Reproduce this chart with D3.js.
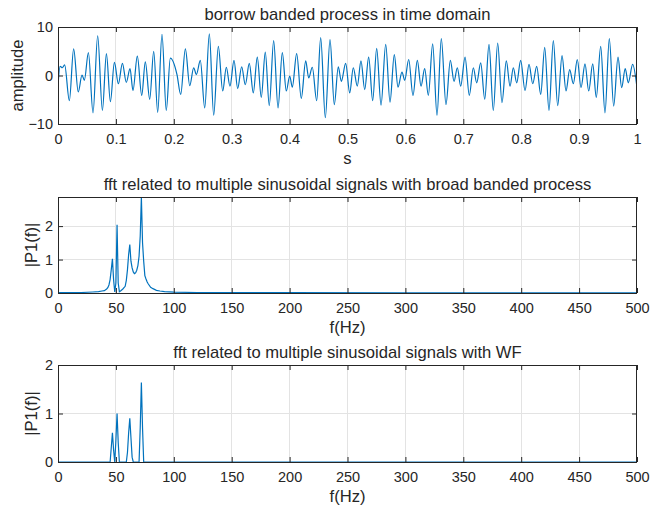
<!DOCTYPE html>
<html>
<head>
<meta charset="utf-8">
<script src="https://cdn.jsdelivr.net/npm/d3@7"></script>
<style>
  body { margin: 0; background: #fff; }
  text { font-family: "Liberation Sans", Arial, sans-serif; fill: #262626; }
</style>
</head>
<body>
<div id="chart"></div>
<script>
const timeS = [
  0, 0.0035, 0.0075, 0.0115, 0.0196, 0.027, 0.035, 0.0415, 0.0455, 0.0525,
  0.0605, 0.0685, 0.0767, 0.0836, 0.0905, 0.0974, 0.1043, 0.1112, 0.118, 0.1244,
  0.1295, 0.137, 0.1446, 0.1508, 0.1584, 0.1653, 0.1722, 0.1796, 0.187, 0.194,
  0.2055, 0.2119, 0.22, 0.2275, 0.2344, 0.239, 0.2458, 0.2534, 0.2614, 0.2689,
  0.2769, 0.2845, 0.2907, 0.297, 0.304, 0.3103, 0.3172, 0.3235, 0.3304, 0.3373,
  0.3442, 0.3511, 0.358, 0.3649, 0.3725, 0.38, 0.3874, 0.3943, 0.4002, 0.4047,
  0.4122, 0.4202, 0.4278, 0.433, 0.4392, 0.4468, 0.4537, 0.4617, 0.4698, 0.4772,
  0.4841, 0.4893, 0.4969, 0.5038, 0.51, 0.5169, 0.5233, 0.5297, 0.5366, 0.5435,
  0.5504, 0.5579, 0.566, 0.5734, 0.5808, 0.5872, 0.5941, 0.5988, 0.6057, 0.6131,
  0.6206, 0.627, 0.6333, 0.6396, 0.6471, 0.6546, 0.662, 0.6701, 0.6776, 0.684,
  0.6897, 0.6955, 0.703, 0.7104, 0.7173, 0.7231, 0.7301, 0.737, 0.7444, 0.7518,
  0.7594, 0.7668, 0.7743, 0.7807, 0.7864, 0.7922, 0.7991, 0.8066, 0.8135, 0.8199,
  0.8268, 0.8337, 0.8406, 0.848, 0.8555, 0.863, 0.8705, 0.8774, 0.8837, 0.89,
  0.8969, 0.9033, 0.9102, 0.9166, 0.9235, 0.9297, 0.9373, 0.9447, 0.9522, 0.9597,
  0.9672, 0.9735, 0.9797, 0.9849, 0.9925, 1.0
];
const amplitude = [
  -2.2, 1.9, 1.6, 2.2, -5.2, 5.5, -3.4, 0.1, -1.0, 4.7,
  -7.7, 8.2, -7.2, 4.5, -5.4, 2.7, -1.7, 2.5, -1.4, 1.4,
  -3.1, 4.0, -4.1, 2.8, -4.9, 5.0, -7.6, 8.5, -7.2, 3.6,
  0.2, -3.9, 5.5, -2.1, 1.6, 0.2, 3.1, -6.7, 8.6, -8.2,
  6.0, -3.2, 1.7, -2.2, 3.1, -2.7, 1.8, -1.9, 2.5, -3.6,
  3.8, -4.5, 4.8, -6.2, 7.2, -6.7, 4.7, -3.2, -0.1, -2.4,
  4.5, -4.7, 3.0, -0.5, 1.7, -5.2, 7.8, -8.7, 7.4, -6.0,
  1.8, -1.2, 2.5, -3.6, 1.6, -2.2, 3.0, -2.9, 3.8, -5.2,
  5.6, -6.1, 6.4, -5.5, 4.3, -2.4, 0.7, -1.0, 3.3, -4.1,
  3.1, -2.2, 1.4, -4.1, 6.5, -8.2, 7.6, -6.0, 3.1, -1.2,
  1.6, -2.2, 3.8, -4.1, 1.6, -1.5, 2.6, -4.9, 6.4, -7.2,
  6.7, -5.6, 3.0, -2.2, 1.6, -1.5, 3.1, -3.1, 2.3, -1.7,
  1.9, -3.9, 5.8, -7.2, 7.2, -6.2, 4.1, -3.2, 1.2, -1.7,
  3.3, -2.5, 2.4, -3.2, 2.4, -4.5, 6.0, -7.7, 7.6, -6.3,
  3.8, -2.5, 1.4, -1.5, 2.3, -2.5
];

// spectrum of the broad banded process
const freqBroad = [0, 10, 20, 30, 35, 38, 40, 42, 43, 44,
  45, 46, 47, 48, 49, 50, 51, 52, 53, 54, 55, 56, 57, 58, 59, 60, 61, 62,
  63, 64, 65, 66, 67, 68, 69, 70, 71, 72, 73, 74, 75, 76, 77, 78,
  80, 82, 85, 88, 92, 100, 120, 150, 200, 300, 400, 500];
const p1Broad = [0.01, 0.01, 0.015, 0.03, 0.04, 0.06, 0.07, 0.12, 0.16, 0.24,
  0.4, 0.7, 1.02, 0.4, 0.03, 0.3, 2.04, 0.3, 0.04, 0.06, 0.09, 0.12, 0.16, 0.2, 0.38, 0.7, 1.15, 1.45,
  0.95, 0.75, 0.63, 0.58, 0.6, 0.68, 0.82, 1.1, 1.7, 2.87, 1.5, 0.95, 0.52, 0.42, 0.33, 0.27,
  0.17, 0.13, 0.08, 0.06, 0.04, 0.025, 0.015, 0.01, 0.01, 0.005, 0.005, 0.005];

// spectrum with WF
const freqWF = [0, 45, 46, 47, 48, 49, 50, 51, 52, 53, 59, 60, 61, 62, 63, 64, 65, 70, 71, 72, 73, 74, 500];
const p1WF = [0, 0, 0.3, 0.6, 0.25, 0, 0.45, 1.0, 0.4, 0, 0, 0.2, 0.6, 0.9, 0.5, 0.1, 0, 0, 0.7, 1.64, 0.7, 0, 0];

const timeTicks = [0, 0.1, 0.2, 0.3, 0.4, 0.5, 0.6, 0.7, 0.8, 0.9, 1];
const freqTicks = [0, 50, 100, 150, 200, 250, 300, 350, 400, 450, 500];
const ampTicks = [-10, 0, 10];
const p1Ticks = [0, 1, 2];

const W = 650, H = 506;
const left = 58, right = 637;
const blue = "#0072BD", ink = "#262626", gridColor = "#e3e3e3";

const panels = [
  {top: 27, bottom: 124, x: timeS, y: amplitude, xDomain: [0, 1], yDomain: [-10, 10],
   xTicks: timeTicks, yTicks: ampTicks, curve: d3.curveMonotoneX,
   title: "borrow banded process in time domain", xlabel: "s", ylabel: "amplitude", ylabelX: 23},
  {top: 197, bottom: 293, x: freqBroad, y: p1Broad, xDomain: [0, 500], yDomain: [0, 2.87],
   xTicks: freqTicks, yTicks: p1Ticks, curve: d3.curveLinear,
   title: "fft related to multiple sinusoidal signals with broad banded process", xlabel: "f(Hz)", ylabel: "|P1(f)|", ylabelX: 37},
  {top: 365, bottom: 462, x: freqWF, y: p1WF, xDomain: [0, 500], yDomain: [0, 2],
   xTicks: freqTicks, yTicks: p1Ticks, curve: d3.curveLinear,
   title: "fft related to multiple sinusoidal signals with WF", xlabel: "f(Hz)", ylabel: "|P1(f)|", ylabelX: 37}
];

const svg = d3.select("#chart").append("svg")
  .attr("width", W).attr("height", H)
  .style("background", "#fff");

panels.forEach((p, i) => {
  const x = d3.scaleLinear().domain(p.xDomain).range([left, right]);
  const y = d3.scaleLinear().domain(p.yDomain).range([p.bottom, p.top]);
  const g = svg.append("g");

  // grid
  g.selectAll(".vgrid").data(p.xTicks.slice(1, -1)).enter().append("line")
    .attr("x1", d => x(d)).attr("x2", d => x(d))
    .attr("y1", p.top).attr("y2", p.bottom)
    .attr("stroke", gridColor).attr("stroke-width", 1).attr("shape-rendering", "crispEdges");
  g.selectAll(".hgrid").data(p.yTicks.filter(d => y(d) > p.top + 1 && y(d) < p.bottom - 1)).enter().append("line")
    .attr("x1", left).attr("x2", right)
    .attr("y1", d => y(d)).attr("y2", d => y(d))
    .attr("stroke", gridColor).attr("stroke-width", 1).attr("shape-rendering", "crispEdges");

  // data line
  svg.append("clipPath").attr("id", "clip" + i).append("rect")
    .attr("x", left).attr("y", p.top - 1).attr("width", right - left).attr("height", p.bottom - p.top + 1);
  const line = d3.line().x((d, k) => x(p.x[k])).y(d => y(d)).curve(p.curve);
  g.append("path").datum(p.y)
    .attr("d", line)
    .attr("fill", "none").attr("stroke", blue).attr("stroke-width", 1.2)
    .attr("clip-path", "url(#clip" + i + ")");

  // axes, ticks pointing inward
  const fmt = d3.format("~g");
  const bottomAxis = g.append("g").attr("transform", `translate(0,${p.bottom})`)
    .call(d3.axisBottom(x).tickValues(p.xTicks).tickFormat(fmt).tickSize(-5).tickSizeOuter(0).tickPadding(10));
  const topAxis = g.append("g").attr("transform", `translate(0,${p.top})`)
    .call(d3.axisTop(x).tickValues(p.xTicks).tickFormat("").tickSize(-5).tickSizeOuter(0));
  const leftAxis = g.append("g").attr("transform", `translate(${left},0)`)
    .call(d3.axisLeft(y).tickValues(p.yTicks).tickFormat(fmt).tickSize(-5).tickSizeOuter(0).tickPadding(5));
  const rightAxis = g.append("g").attr("transform", `translate(${right},0)`)
    .call(d3.axisRight(y).tickValues(p.yTicks).tickFormat("").tickSize(-5).tickSizeOuter(0));
  [bottomAxis, topAxis, leftAxis, rightAxis].forEach(a => {
    a.select(".domain").remove();
    a.selectAll("line").attr("stroke", ink);
    a.selectAll("text").attr("fill", ink).style("font-size", "14.5px")
      .style("font-family", '"Liberation Sans", Arial, sans-serif');
  });

  g.append("rect")
    .attr("x", left + 0.5).attr("y", p.top + 0.5)
    .attr("width", right - left - 1).attr("height", p.bottom - p.top)
    .attr("fill", "none").attr("stroke", ink).attr("stroke-width", 1);

  // labels
  g.append("text").attr("x", (left + right) / 2).attr("y", p.top - 7)
    .attr("text-anchor", "middle").style("font-size", "16.6px").text(p.title);
  g.append("text").attr("x", (left + right) / 2).attr("y", p.bottom + 40)
    .attr("text-anchor", "middle").style("font-size", "16.6px").text(p.xlabel);
  g.append("text")
    .attr("transform", `translate(${p.ylabelX},${(p.top + p.bottom) / 2}) rotate(-90)`)
    .attr("text-anchor", "middle").style("font-size", "16.6px").text(p.ylabel);
});
</script>
</body>
</html>
